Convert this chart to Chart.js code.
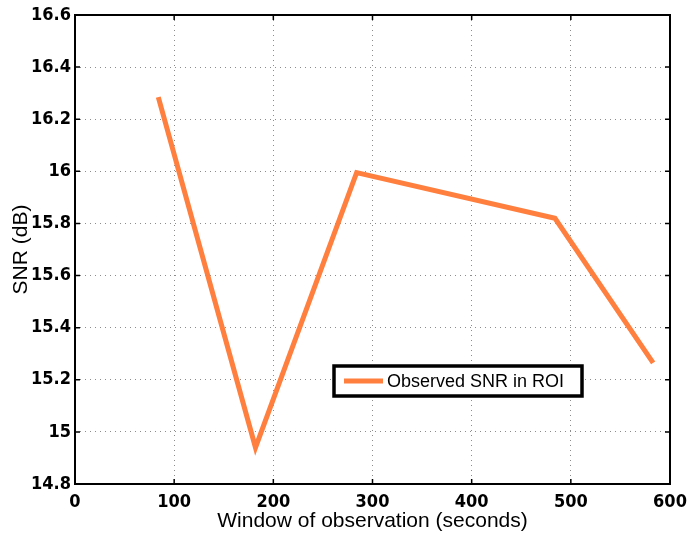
<!DOCTYPE html>
<html>
<head>
<meta charset="utf-8">
<script src="https://cdn.jsdelivr.net/npm/chart.js@4/dist/chart.umd.min.js"></script>
<style>
  html, body { margin: 0; padding: 0; background: #fff; }
  #wrap { width: 687px; height: 539px; }
</style>
</head>
<body>
<div id="wrap"><canvas id="snr"></canvas></div>
<script>
const windowSecs = [84, 182, 284, 484, 583];
const snrDb = [16.285, 14.94, 15.995, 15.82, 15.265];
const seriesLabel = "Observed SNR in ROI";

const lineColor = "#ff7f3f";
const tickFont = { family: "'Liberation Sans Narrow', 'DejaVu Sans Condensed', Arial", size: 18, weight: "bold" };
const titleFont = { family: "'Liberation Sans', Arial", size: 21 };

// MATLAB-style box with inward ticks on all four sides
const boxPlugin = {
  id: "box",
  afterDatasetsDraw(chart) {
    const { ctx, chartArea: a, scales } = chart;
    ctx.save();
    ctx.strokeStyle = "#000";
    ctx.lineWidth = 1.5;
    scales.x.ticks.forEach((t) => {
      const px = scales.x.getPixelForValue(t.value);
      ctx.beginPath();
      ctx.moveTo(px, a.bottom); ctx.lineTo(px, a.bottom - 5);
      ctx.moveTo(px, a.top); ctx.lineTo(px, a.top + 5);
      ctx.stroke();
    });
    scales.y.ticks.forEach((t) => {
      const py = scales.y.getPixelForValue(t.value);
      ctx.beginPath();
      ctx.moveTo(a.left, py); ctx.lineTo(a.left + 5, py);
      ctx.moveTo(a.right, py); ctx.lineTo(a.right - 5, py);
      ctx.stroke();
    });
    ctx.lineWidth = 2;
    ctx.strokeRect(a.left, a.top, a.right - a.left, a.bottom - a.top);
    ctx.restore();
  }
};

// legend box placed inside the plot like the original
const legendPlugin = {
  id: "innerLegend",
  afterDraw(chart) {
    const { ctx } = chart;
    const ds = chart.data.datasets[0];
    const x = 334, y = 366, w = 248, h = 30;
    ctx.save();
    ctx.fillStyle = "#fff";
    ctx.fillRect(x, y, w, h);
    ctx.strokeStyle = "#000";
    ctx.lineWidth = 3.5;
    ctx.strokeRect(x, y, w, h);
    ctx.strokeStyle = ds.borderColor;
    ctx.lineWidth = 5;
    ctx.beginPath();
    ctx.moveTo(344, y + h / 2);
    ctx.lineTo(383, y + h / 2);
    ctx.stroke();
    ctx.fillStyle = "#000";
    ctx.font = "18px 'Liberation Sans', Arial";
    ctx.textBaseline = "middle";
    ctx.fillText(ds.label, 387, y + h / 2 + 1);
    ctx.restore();
  }
};

new Chart(document.getElementById("snr"), {
  type: "line",
  data: {
    datasets: [{
      label: seriesLabel,
      data: windowSecs.map((s, i) => ({ x: s, y: snrDb[i] })),
      borderColor: lineColor,
      backgroundColor: lineColor,
      borderWidth: 5,
      pointRadius: 0,
      tension: 0,
      borderJoinStyle: "miter",
    }],
  },
  options: {
    responsive: true,
    maintainAspectRatio: false,
    animation: false,
    layout: { padding: { left: 0, top: 15, right: 17, bottom: 0 } },
    plugins: { legend: { display: false }, tooltip: { enabled: false } },
    scales: {
      x: {
        type: "linear",
        min: 0, max: 600,
        ticks: { stepSize: 100, color: "#000", font: tickFont, padding: 8, maxRotation: 0 },
        grid: { color: "rgba(0,0,0,0.45)", lineWidth: 1, drawTicks: false },
        border: { display: false, dash: [1, 4] },
        title: { display: true, text: "Window of observation (seconds)", color: "#000", font: titleFont, padding: { top: 0, bottom: 5 } },
        afterFit(scale) {
          scale.height = 55;
          scale.paddingLeft = 0;
          scale.paddingRight = 0;
        },
      },
      y: {
        min: 14.8, max: 16.6,
        ticks: {
          stepSize: 0.2, color: "#000", font: tickFont, padding: 4,
          callback: (v) => String(Number(v.toFixed(1))),
        },
        grid: { color: "rgba(0,0,0,0.45)", lineWidth: 1, drawTicks: false },
        border: { display: false, dash: [1, 4] },
        title: { display: true, text: "SNR (dB)", color: "#000", font: titleFont, padding: { top: 9, bottom: 0 } },
        afterFit(scale) {
          scale.width = 75;
          scale.paddingTop = 0;
          scale.paddingBottom = 0;
        },
      },
    },
  },
  plugins: [boxPlugin, legendPlugin],
});
</script>
</body>
</html>
